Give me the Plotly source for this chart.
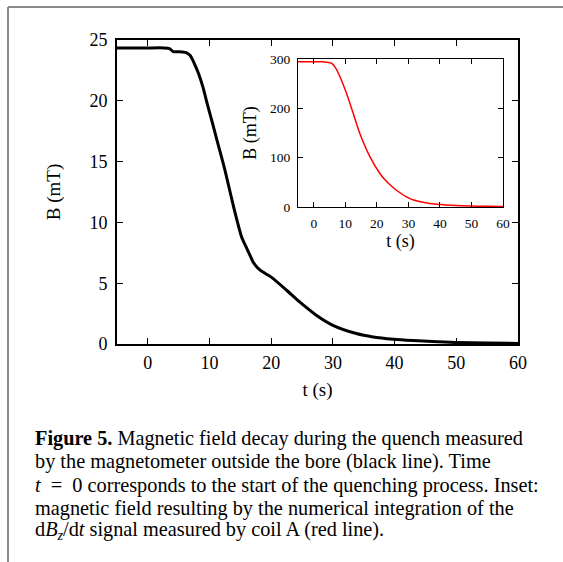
import plotly.graph_objects as go

W, H = 563, 562

# Main curve: magnetometer outside the bore (black)
t_main = [-5, 0, 2.6, 3.5, 4.1, 5.0, 5.6, 6.3, 6.9, 7.5, 8.2, 9.0, 9.6, 10.4, 11.2, 12.5, 13.9,
          15.2, 16.0, 16.6, 17.1, 18.2, 20.0, 22.5, 24.6, 27.3, 30.0, 33.8, 36.5, 39.8, 43.0,
          46.1, 50.0, 55.0, 60.0]
b_main = [24.35, 24.35, 24.35, 24.3, 24.05, 24.03, 24.02, 23.95, 23.7, 23.1, 22.26, 21.0, 19.8,
          18.3, 16.77, 14.3, 11.28, 8.8, 7.9, 7.25, 6.7, 6.07, 5.5, 4.42, 3.46, 2.37, 1.54,
          0.86, 0.58, 0.39, 0.28, 0.2, 0.12, 0.08, 0.05]

# Inset curve: integrated dBz/dt from coil A (red)
t_inset = [-5, 0, 3.0, 4.1, 5.0, 5.7, 7.0, 8.3, 10.4, 12.5, 14.6, 17.8, 20.9, 23.5, 26.2, 30.5,
           33.5, 36.8, 42.0, 49.5, 55.0, 60.0]
b_inset = [294.5, 294.5, 294.3, 293.5, 292.5, 291, 281, 264, 230, 190, 149, 102, 68.5, 49, 34,
           17, 11, 7, 4, 2, 1.3, 1]

main_xticks = [0, 10, 20, 30, 40, 50, 60]
main_yticks = [0, 5, 10, 15, 20, 25]
inset_xticks = [0, 10, 20, 30, 40, 50, 60]
inset_yticks = [0, 100, 200, 300]

caption_lines = [
    "<b>Figure 5.</b> Magnetic field decay during the quench measured",
    "by the magnetometer outside the bore (black line). Time",
    "<i>t</i>\u2002=\u20020 corresponds to the start of the quenching process. Inset:",
    "magnetic field resulting by the numerical integration of the",
    "d<i>B<sub>z</sub></i>/d<i>t</i> signal measured by coil A (red line).",
]

FONT = "Liberation Serif"

def px_x(x):
    return x / W

def px_y(y):
    return 1 - y / H

fig = go.Figure()
fig.add_trace(go.Scatter(x=t_main, y=b_main, mode="lines",
                         line=dict(color="black", width=3, shape="spline", smoothing=0.6),
                         xaxis="x", yaxis="y", showlegend=False, hoverinfo="skip"))
fig.add_trace(go.Scatter(x=t_inset, y=b_inset, mode="lines",
                         line=dict(color="#ff0000", width=1.5, shape="spline", smoothing=0.6),
                         xaxis="x2", yaxis="y2", showlegend=False, hoverinfo="skip"))

axis_common = dict(showgrid=False, zeroline=False, showline=True, linecolor="black",
                   mirror="ticks", ticks="inside", tickcolor="black", automargin=False)

fig.update_layout(
    template="none",
    width=W, height=H,
    margin=dict(l=0, r=0, t=0, b=0, pad=0),
    paper_bgcolor="white", plot_bgcolor="white",
    font=dict(family=FONT, color="black"),
    xaxis=dict(**axis_common, domain=[px_x(117), px_x(518)], range=[-5, 60], tickvals=main_xticks,
               linewidth=1.6, ticklen=6, tickwidth=1.2, tickfont=dict(size=18), anchor="y",
               ticklabelstandoff=2,
               title=dict(text="t (s)", font=dict(size=19), standoff=10)),
    yaxis=dict(**axis_common, domain=[px_y(344), px_y(40)], range=[0, 25], tickvals=main_yticks,
               linewidth=1.6, ticklen=6, tickwidth=1.2, tickfont=dict(size=18), anchor="x",
               ticklabelstandoff=4,
               title=dict(text="B (mT)", font=dict(size=19), standoff=24)),
    xaxis2=dict(**axis_common, domain=[px_x(298), px_x(503)], range=[-5, 60], tickvals=inset_xticks,
                linewidth=1.3, ticklen=5, tickwidth=1, tickfont=dict(size=13.5), anchor="y2",
                ticklabelstandoff=4,
                title=dict(text="t (s)", font=dict(size=18), standoff=4)),
    yaxis2=dict(**axis_common, domain=[px_y(207), px_y(59)], range=[0, 300], tickvals=inset_yticks,
                linewidth=1.3, ticklen=5, tickwidth=1, tickfont=dict(size=13.5), anchor="x2",
                ticklabelstandoff=4,
                title=dict(text="B (mT)", font=dict(size=18), standoff=8)),
)

# grey frame (top and left border)
fig.add_shape(type="line", xref="paper", yref="paper", x0=px_x(8), x1=1.0, y0=px_y(7), y1=px_y(7),
              line=dict(color="#8c8c8c", width=2))
fig.add_shape(type="line", xref="paper", yref="paper", x0=px_x(8), x1=px_x(8), y0=px_y(7), y1=-0.01,
              line=dict(color="#8c8c8c", width=2))

caption_mid = [438, 461.5, 485, 508, 530.5]
for line, ym in zip(caption_lines, caption_mid):
    fig.add_annotation(text=line, xref="paper", yref="paper", x=px_x(33), y=px_y(ym),
                       xanchor="left", yanchor="middle", showarrow=False,
                       font=dict(family=FONT, size=20.3, color="black"))

fig.write_html("out.html")
